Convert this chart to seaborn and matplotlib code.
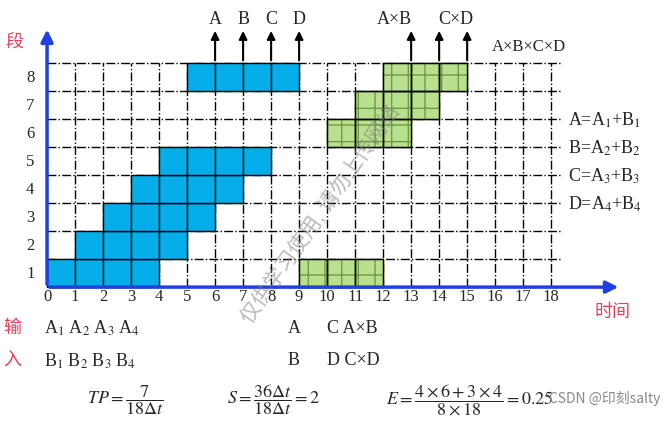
import matplotlib
matplotlib.use("Agg")
import matplotlib.pyplot as plt
import seaborn as sns
import pandas as pd

sns.set_theme(style="white")
plt.rcParams['font.family'] = ['Liberation Serif', 'Noto Sans CJK SC']
plt.rcParams['mathtext.fontset'] = 'stix'

# task cells: (stage, start time)
blue_stage = [1, 1, 1, 1, 2, 2, 2, 2, 3, 3, 3, 3, 4, 4, 4, 4, 5, 5, 5, 5, 8, 8, 8, 8]
blue_start = [0, 1, 2, 3, 1, 2, 3, 4, 2, 3, 4, 5, 3, 4, 5, 6, 4, 5, 6, 7, 5, 6, 7, 8]
green_stage = [1, 1, 1, 6, 6, 6, 7, 7, 7, 8, 8, 8]
green_start = [9, 10, 11, 10, 11, 12, 11, 12, 13, 12, 13, 14]
out_time = [6, 7, 8, 9, 13, 14, 15]
out_label = ['A', 'B', 'C', 'D', 'A×B', 'C×D', '']
label_shift = [0, 0, 0, 0, -0.6, 0.6, 0]
x_ticks = list(range(19))
y_ticks = list(range(1, 9))
eqs = ['A=A$_1$+B$_1$', 'B=A$_2$+B$_2$', 'C=A$_3$+B$_3$', 'D=A$_4$+B$_4$']

blue = pd.DataFrame({'stage': blue_stage, 'start': blue_start})
green = pd.DataFrame({'stage': green_stage, 'start': green_start})

fig = plt.figure(figsize=(6.66, 4.27), dpi=100)
ax = fig.add_axes([0, 0, 1, 1])
ax.set_xlim(-1.68, 22.1)
ax.set_ylim(-4.96, 10.29)
ax.axis('off')

ax.bar(blue['start'] + 0.5, 1, bottom=blue['stage'] - 1, width=1,
       color='#05aee8', edgecolor='black', lw=1, zorder=2)
ax.bar(green['start'] + 0.5, 1, bottom=green['stage'] - 1, width=1,
       color='#b9e08e', edgecolor='#6f9a48', hatch='+', lw=1, zorder=2)
ax.bar(green['start'] + 0.5, 1, bottom=green['stage'] - 1, width=1,
       color='none', edgecolor='black', lw=1, zorder=3)

for s in y_ticks:
    ax.plot([0, 18.4], [s, s], color='black', ls='-.', lw=1, zorder=1)
for t in x_ticks[1:]:
    ax.plot([t, t], [0, 8], color='black', ls='-.', lw=1, zorder=1)

# axes
ax.annotate('', xy=(0, 9.3), xytext=(0, 0),
            arrowprops=dict(arrowstyle='-|>', color='#2040e0', lw=2.5, mutation_scale=18))
ax.annotate('', xy=(20.5, 0), xytext=(0, 0),
            arrowprops=dict(arrowstyle='-|>', color='#2040e0', lw=2.5, mutation_scale=18))
for t in x_ticks:
    ax.text(t, -0.33, str(t), ha='center', va='center', fontsize=12)
for s in y_ticks:
    ax.text(-0.6, s - 0.5, str(s), ha='center', va='center', fontsize=12)

red = '#e8405a'
ax.text(-1.15, 8.75, '段', color=red, fontsize=13, ha='center', va='center')
ax.text(20.2, -0.86, '时间', color=red, fontsize=13, ha='center', va='center')
ax.text(-1.25, -1.45, '输', color=red, fontsize=13, ha='center', va='center')
ax.text(-1.25, -2.6, '入', color=red, fontsize=13, ha='center', va='center')

# outputs
for t, lab, dx in zip(out_time, out_label, label_shift):
    ax.annotate('', xy=(t, 9.25), xytext=(t, 8),
                arrowprops=dict(arrowstyle='-|>', color='black', lw=1.5, mutation_scale=12))
    ax.text(t + dx, 9.6, lab, ha='center', va='center', fontsize=13)
ax.text(17.2, 8.6, 'A×B×C×D', ha='center', va='center', fontsize=12)

for i, e in enumerate(eqs):
    ax.text(18.6, 6 - i, e, ha='left', va='center', fontsize=13)

ax.text(-0.1, -1.45, 'A$_1$ A$_2$ A$_3$ A$_4$', ha='left', va='center', fontsize=13)
ax.text(-0.1, -2.6, 'B$_1$ B$_2$ B$_3$ B$_4$', ha='left', va='center', fontsize=13)
ax.text(8.6, -1.45, 'A      C A×B', ha='left', va='center', fontsize=13)
ax.text(8.6, -2.6, 'B      D C×D', ha='left', va='center', fontsize=13)

ax.text(2.8, -4.0, r'$TP=\dfrac{7}{18\Delta t}$', ha='center', va='center', fontsize=13)
ax.text(8.1, -4.0, r'$S=\dfrac{36\Delta t}{18\Delta t}=2$', ha='center', va='center', fontsize=13)
ax.text(15.1, -4.0, r'$E=\dfrac{4\times6+3\times4}{8\times18}=0.25$', ha='center', va='center', fontsize=13)

ax.text(9.8, 2.6, '仅供学习使用, 请勿上传网络', rotation=55, color='gray', alpha=0.55,
        fontsize=15, ha='center', va='center', zorder=5)
ax.text(21.9, -3.95, 'CSDN @印刻salty', color='#888888', fontsize=10, ha='right', va='center',
        family=['Noto Sans CJK SC', 'DejaVu Sans'])

fig.savefig('out.png', dpi=100)
